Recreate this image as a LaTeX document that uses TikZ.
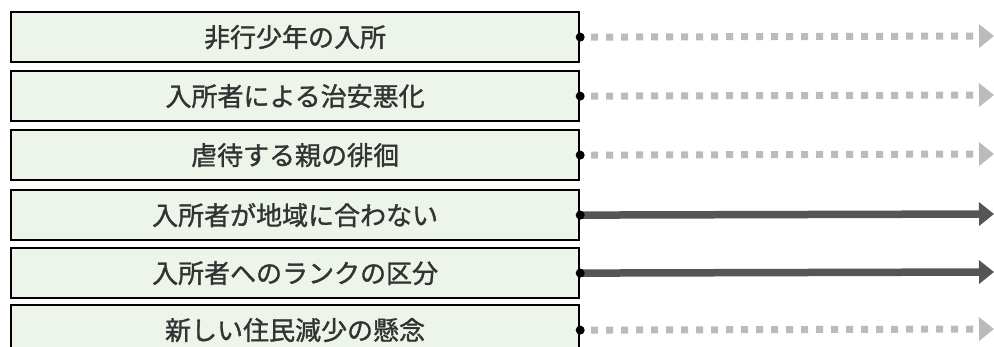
\documentclass[tikz,border=0pt]{standalone}
\usepackage{fontspec}
\newfontfamily\jpfont{Noto Sans CJK JP}[FakeBold=1.3]
\usetikzlibrary{arrows.meta}
\definecolor{boxfill}{HTML}{EDF5EA}
\definecolor{txt}{HTML}{333333}
\definecolor{darkarrow}{HTML}{555555}
\definecolor{lightarrow}{HTML}{BBBBBB}
\tikzset{
  itembox/.style={draw=black, line width=2.2pt, fill=boxfill, rectangle,
    minimum width=568pt, minimum height=50pt, inner sep=0pt, anchor=north west,
    text=txt, font=\jpfont\fontsize{26}{30}\selectfont},
  strong/.style={draw=darkarrow, line width=7.5pt,
    -{Triangle[length=15pt,width=23pt,fill=darkarrow]}},
  weak/.style={draw=lightarrow, line width=7pt, dash pattern=on 7pt off 8pt,
    -{Triangle[length=15pt,width=23pt,fill=lightarrow]}},
  joint/.style={fill=black, draw=none}
}
\begin{document}
\begin{tikzpicture}[x=1pt,y=-1pt]
\useasboundingbox (0,0) rectangle (994,346);
\node[itembox] (b1) at (10,11)   {非行少年の入所};
\node[itembox] (b2) at (10,70)   {入所者による治安悪化};
\node[itembox] (b3) at (10,129)  {虐待する親の徘徊};
\node[itembox] (b4) at (10,189)  {入所者が地域に合わない};
\node[itembox] (b5) at (10,247)  {入所者へのランクの区分};
\node[itembox] (b6) at (10,304)  {新しい住民減少の懸念};
\foreach \i/\y in {1/36,2/95,3/154,4/214,5/272,6/329}{
  \coordinate (t\i) at (994,\y);
}
\draw[weak]   ([xshift=11pt]b1.east) -- (t1);
\draw[weak]   ([xshift=11pt]b2.east) -- (t2);
\draw[weak]   ([xshift=11pt]b3.east) -- (t3);
\draw[strong] (b4.east) -- (t4);
\draw[strong] (b5.east) -- (t5);
\draw[weak]   ([xshift=11pt]b6.east) -- (t6);
\foreach \i in {1,...,6}{
  \fill[joint] (b\i.east) circle (4.5pt);
}
\end{tikzpicture}
\end{document}
